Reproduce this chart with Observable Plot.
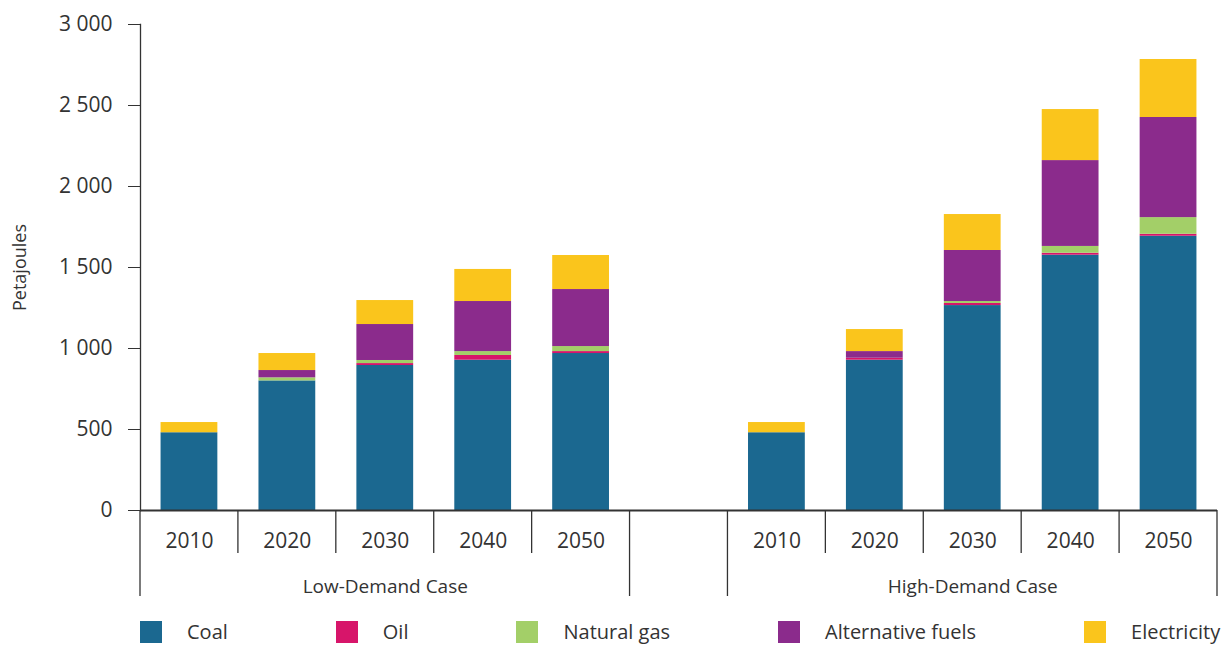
<!DOCTYPE html>
<html>
<head>
<meta charset="utf-8">
<script src="https://cdn.jsdelivr.net/npm/d3@7"></script>
<script src="https://cdn.jsdelivr.net/npm/@observablehq/plot@0.6"></script>
<style>
  html, body { margin: 0; padding: 0; background: #fff; }
  #wrap { position: relative; width: 1227px; height: 646px; font-family: "Open Sans", sans-serif; color: #333; overflow: hidden; }
  #legend { position: absolute; left: 140px; top: 621px; display: flex; column-gap: 108px; align-items: center; font-size: 20px; white-space: nowrap; width: max-content; }
  .item { display: flex; align-items: center; flex: none; }
  .sw { width: 22px; height: 22px; margin-right: 25px; flex: none; }
  .item span { line-height: 22px; }
</style>
</head>
<body>
<div id="wrap"><div id="chart"></div><div id="legend"></div></div>
<script>
const years = ["2010", "2020", "2030", "2040", "2050"];
const cases = ["Low-Demand Case", "High-Demand Case"];
const sources = ["Coal", "Oil", "Natural gas", "Alternative fuels", "Electricity"];
const colors = ["#1b6890", "#d7156a", "#a3cf68", "#8b2b8c", "#fac51c"];

// Low-Demand Case (PJ)
const lowCoal = [480, 800, 895, 928, 969];
const lowOil = [0, 0, 12, 29, 12];
const lowGas = [0, 19, 19, 24, 31];
const lowAlt = [0, 45, 222, 309, 352];
const lowElec = [63, 105, 148, 198, 210];

// High-Demand Case (PJ)
const highCoal = [480, 928, 1265, 1576, 1693];
const highOil = [0, 12, 13, 12, 12];
const highGas = [0, 0, 12, 42, 103];
const highAlt = [0, 41, 315, 530, 618];
const highElec = [63, 136, 222, 315, 358];

const yTicks = [0, 500, 1000, 1500, 2000, 2500, 3000];

const seriesByCase = [
  [lowCoal, lowOil, lowGas, lowAlt, lowElec],
  [highCoal, highOil, highGas, highAlt, highElec]
];
const prefix = ["L", "H"];
const keyOf = (c, y) => prefix[c] + y;
const domainX = [...years.map(y => keyOf(0, y)), "gap", ...years.map(y => keyOf(1, y))];

const rows = [];
cases.forEach((cs, c) => {
  years.forEach((yr, i) => {
    sources.forEach((s, k) => {
      rows.push({key: keyOf(c, yr), source: s, value: seriesByCase[c][k][i]});
    });
  });
});
const yearLabels = [];
cases.forEach((cs, c) => years.forEach(yr => yearLabels.push({key: keyOf(c, yr), year: yr})));
const caseLabels = cases.map((cs, c) => ({key: keyOf(c, years[2]), text: cs}));

const W = 1227, H = 610, mL = 140, mR = 10, mT = 24, mB = 100;

const plot = Plot.plot({
  width: W,
  height: H,
  marginLeft: mL,
  marginRight: mR,
  marginTop: mT,
  marginBottom: mB,
  style: {fontFamily: "Open Sans, sans-serif", fontSize: "20px", color: "#333", background: "#fff", overflow: "visible"},
  x: {type: "band", domain: domainX, paddingInner: 0.42, paddingOuter: 0.21, round: false, axis: null},
  y: {domain: [0, 3000], ticks: yTicks, label: null},
  color: {domain: sources, range: colors},
  marks: [
    Plot.barY(rows, {x: "key", y: "value", fill: "source"}),
    Plot.frame({anchor: "left", stroke: "#333", strokeWidth: 1.3}),
    Plot.ruleY([0], {stroke: "#333", strokeWidth: 2}),
    Plot.axisY({ticks: yTicks, tickSize: 12, tickPadding: 16, fontSize: 21,
      tickFormat: d => d3.format(",")(d).replace(/,/g, " "), label: null, stroke: "#333"}),
    Plot.text(["Petajoules"], {frameAnchor: "left", textAnchor: "middle", lineAnchor: "middle", rotate: -90, dx: -120, fontSize: 18, fill: "#333"}),
    Plot.text(yearLabels, {x: "key", text: "year", frameAnchor: "bottom", lineAnchor: "middle", dy: 31, fontSize: 21, fill: "#333"}),
    Plot.text(caseLabels, {x: "key", text: "text", frameAnchor: "bottom", lineAnchor: "middle", dy: 76, fontSize: 19, fill: "#333"})
  ]
});

document.getElementById("chart").appendChild(plot);

// category separators drawn from the plot's own scales
const xs = plot.scale("x");
const ys = plot.scale("y");
const halfGap = (xs.step - xs.bandwidth) / 2;
const leftOf = k => xs.apply(k) - halfGap;
const rightOf = k => xs.apply(k) + xs.bandwidth + halfGap;
const y0 = ys.apply(0);
const g = d3.select(plot).append("g").attr("stroke", "#333").attr("stroke-width", 1.3);
const shortSep = [];
cases.forEach((cs, c) => years.slice(1).forEach(yr => shortSep.push(leftOf(keyOf(c, yr)))));
const longSep = [leftOf(keyOf(0, years[0])), leftOf("gap"), leftOf(keyOf(1, years[0])), rightOf(keyOf(1, years[4]))];
shortSep.forEach(x => g.append("line").attr("x1", x).attr("x2", x).attr("y1", y0).attr("y2", y0 + 43));
longSep.forEach(x => g.append("line").attr("x1", x).attr("x2", x).attr("y1", y0).attr("y2", y0 + 86));

// legend
const legend = d3.select("#legend");
sources.forEach((s, i) => {
  const it = legend.append("div").attr("class", "item");
  it.append("div").attr("class", "sw").style("background", colors[i]);
  it.append("span").text(s);
});
</script>
</body>
</html>
